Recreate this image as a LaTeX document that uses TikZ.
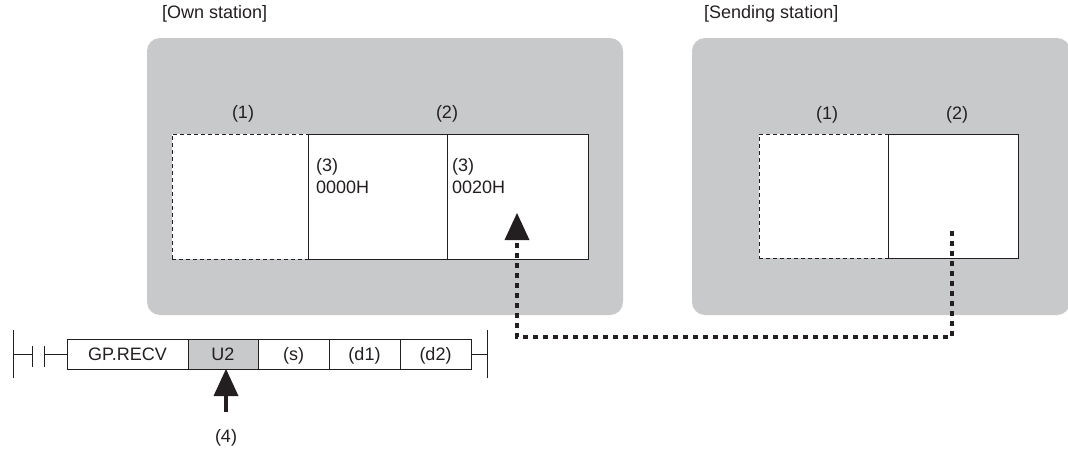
\documentclass[tikz,border=0pt]{standalone}
\usepackage{fontspec}
\setmainfont{Liberation Sans}
\usetikzlibrary{arrows.meta}
\definecolor{stgray}{RGB}{200,201,203}
\definecolor{lnc}{RGB}{35,31,32}
\begin{document}
\begin{tikzpicture}[x=1pt,y=-1pt,
  every node/.style={font=\fontsize{18}{21}\selectfont, text=lnc},
  graybox/.style={fill=stgray, draw=none, rounded corners=13pt, anchor=north west, inner sep=0pt, outer sep=0pt},
  memsolid/.style={draw=lnc, line width=1pt, fill=white, anchor=north west, inner sep=0pt, outer sep=0pt},
  memdash/.style={draw=lnc, line width=1pt, fill=white, dash pattern=on 4pt off 3pt, anchor=north west, inner sep=0pt, outer sep=0pt},
  ladbox/.style={draw=lnc, line width=1pt, anchor=north west, inner sep=0pt, outer sep=0pt, minimum height=30pt, text height=12.9pt, text depth=0pt},
  wire/.style={draw=lnc, line width=1pt},
  dotline/.style={draw=lnc, line width=4.8pt, dash pattern=on 4.8pt off 5.2pt, -{Triangle[width=25pt,length=27pt,line width=0pt]}},
  bigarrow/.style={draw=lnc, line width=4pt, -{Triangle[width=25pt,length=27pt,line width=0pt]}},
  lbl/.style={anchor=base, inner sep=0pt},
  lblw/.style={anchor=base west, inner sep=0pt}
]
\useasboundingbox (0,0) rectangle (1068,450);

% titles
\node[lblw] (t1) at (162,18) {[Own station]};
\node[lblw] (t2) at (704,18) {[Sending station]};

% own station
\node[graybox, minimum width=476pt, minimum height=277pt] (own) at (147,38) {};
\node[memdash, minimum width=136pt, minimum height=125pt] (o1) at (172,134) {};
\node[memsolid, minimum width=139pt, minimum height=125pt] (o2) at (308,134) {};
\node[memsolid, minimum width=141pt, minimum height=125pt] (o3) at (447,134) {};
\node[lbl] (o1l) at (243,118) {(1)};
\node[lbl] (o2l) at (447,118) {(2)};
\node[lblw] (o2a) at (316,171) {(3)};
\node[lblw] (o2b) at (316,193) {0000H};
\node[lblw] (o3a) at (452,171) {(3)};
\node[lblw] (o3b) at (452,193) {0020H};

% sending station
\node[graybox, minimum width=378pt, minimum height=277pt] (snd) at (692,38) {};
\node[memdash, minimum width=129pt, minimum height=124pt] (s1) at (759,134) {};
\node[memsolid, minimum width=130pt, minimum height=124pt] (s2) at (888,134) {};
\node[lbl] (s1l) at (827,119) {(1)};
\node[lbl] (s2l) at (957,119) {(2)};

% transfer path
\coordinate (src) at (952,231);
\coordinate (crn) at (952,337);
\coordinate (dst) at (517,213);
\draw[dotline] (src) -- (crn) -| (dst);

% ladder
\node[ladbox, minimum width=121pt] (gp) at (67,339) {GP.RECV};
\node[ladbox, minimum width=70pt, fill=stgray] (u2) at (188,339) {U2};
\node[ladbox, minimum width=71pt] (ss) at (258,339) {(s)};
\node[ladbox, minimum width=71pt] (d1) at (329,339) {(d1)};
\node[ladbox, minimum width=71pt] (d2) at (400,339) {(d2)};
\draw[wire] (13,330) -- (13,378);
\draw[wire] (13,354) -- (32,354);
\draw[wire] (32,346) -- (32,367);
\draw[wire] (44,346) -- (44,367);
\draw[wire] (44,354) -- (gp.west);
\draw[wire] (d2.east) -- (487,354);
\draw[wire] (487,330) -- (487,378);

\coordinate (a4) at (226,412);
\draw[bigarrow] (a4) -- (a4 |- u2.south);
\node[lbl] (l4) at (226,442) {(4)};
\end{tikzpicture}
\end{document}
